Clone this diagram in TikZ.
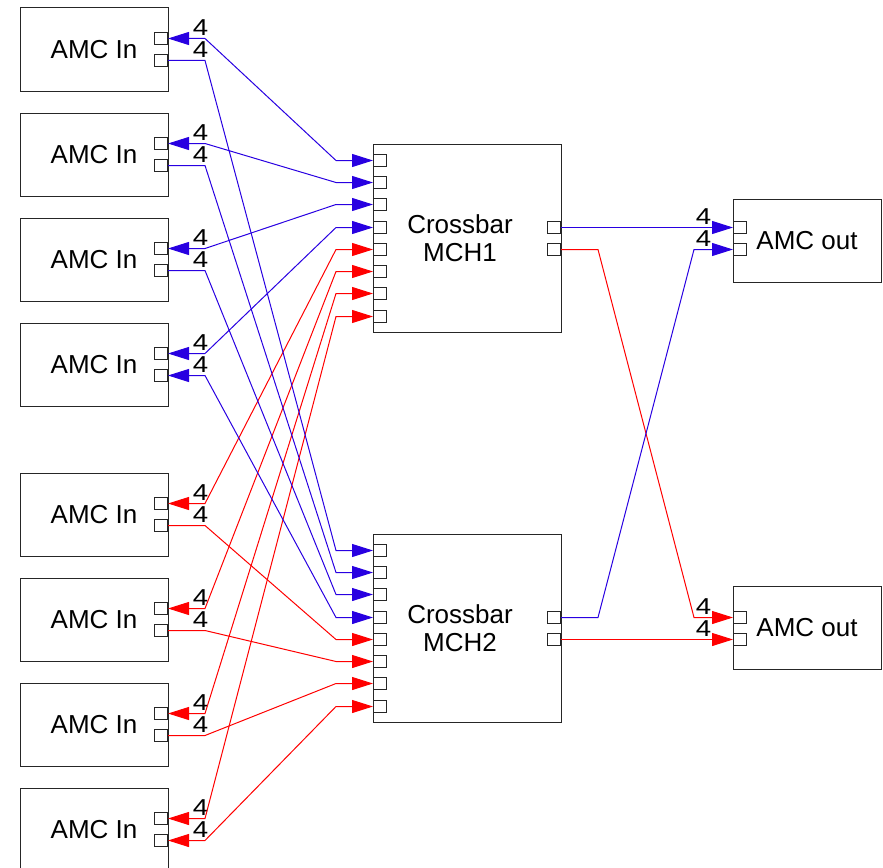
\documentclass[tikz,border=0pt]{standalone}
\usepackage{fontspec}
\setmainfont{Liberation Sans}
\usetikzlibrary{arrows.meta}
\definecolor{wblue}{RGB}{40,0,225}
\definecolor{wred}{RGB}{255,0,0}
\begin{document}
\begin{tikzpicture}[x=1pt, y=-1pt,
  >={Triangle[length=21pt, width=13pt]},
  box/.style={draw=black!85, line width=1pt, minimum width=148pt, minimum height=83pt, inner sep=0pt, font=\fontsize{26}{28.4}\selectfont},
  xbar/.style={box, minimum width=188pt, minimum height=188pt},
  port/.style={draw=black!85, line width=1pt, fill=white, minimum width=13pt, minimum height=12pt, inner sep=0pt},
  wire/.style={line width=1pt},
  lanes/.style={font=\fontsize{23}{23}\selectfont, xscale=1.2, inner sep=0pt, anchor=base}]
  \useasboundingbox (0,0) rectangle (883,867);
  % AMC inputs
  \foreach \t [count=\i] in {8,113,218,323,473,578,683,788} {
    \node[box] (In\i) at (94,\t+41.5) {AMC In};
    \node[port, anchor=east] (Ia\i) at (168,\t+30.5) {};
    \node[port, anchor=east] (Ib\i) at (168,\t+52.5) {};
    \node[lanes] (La\i) at ([shift={(32.5,-3)}]Ia\i.east) {4};
    \node[lanes] (Lb\i) at ([shift={(32.5,-3)}]Ib\i.east) {4};
  }
  % crossbars
  \foreach \t/\n in {144/1,534/2} {
    \node[xbar] (M\n) at (467,\t+94) {};
    \node[font=\fontsize{26}{28.4}\selectfont, align=center] (Mt\n) at (460,\t+94) {Crossbar\\MCH\n};
    \foreach \d [count=\k] in {16.5,38.5,60.5,83.5,105.5,127.5,149.5,172.5}
      \node[port, anchor=west] (M\n-\k) at (373,\t+\d) {};
    \node[port, anchor=east] (M\n-o1) at (561,\t+83.5) {};
    \node[port, anchor=east] (M\n-o2) at (561,\t+105.5) {};
  }
  % AMC outputs
  \foreach \t/\n/\m in {144/1/240.5,534/2/627.5} {
    \node[box] (Out\n) at (807,\m) {AMC out};
    \node[port, anchor=west] (Oa\n) at (733,\t+83.5) {};
    \node[port, anchor=west] (Ob\n) at (733,\t+105.5) {};
    \node[lanes] (Lc\n) at ([shift={(-29.5,-3.5)}]Oa\n.west) {4};
    \node[lanes] (Ld\n) at ([shift={(-29.5,-3.5)}]Ob\n.west) {4};
  }
  % links
  \foreach \i/\col in {1/wblue,2/wblue,3/wblue,4/wblue,5/wred,6/wred,7/wred,8/wred}
    \draw[wire, color=\col, <->] (Ia\i.east) -- ++(37,0) -- ([xshift=-37pt]M1-\i.west) -- (M1-\i.west);
  \foreach \i/\col in {1/wblue,2/wblue,3/wblue,5/wred,6/wred,7/wred}
    \draw[wire, color=\col, ->] (Ib\i.east) -- ++(37,0) -- ([xshift=-37pt]M2-\i.west) -- (M2-\i.west);
  \draw[wire, wblue, <->] (Ib4.east) -- ++(37,0) -- ([xshift=-37pt]M2-4.west) -- (M2-4.west);
  \draw[wire, wred, <->] (Ib8.east) -- ++(37,0) -- ([xshift=-37pt]M2-8.west) -- (M2-8.west);
  \draw[wire, wblue, ->] (M1-o1.east) -- (Oa1.west);
  \draw[wire, wred, ->] (M1-o2.east) -- ++(37,0) -- ([xshift=-39pt]Oa2.west) -- (Oa2.west);
  \draw[wire, wblue, ->] (M2-o1.east) -- ++(37,0) -- ([xshift=-39pt]Ob1.west) -- (Ob1.west);
  \draw[wire, wred, ->] (M2-o2.east) -- (Ob2.west);
\end{tikzpicture}
\end{document}
